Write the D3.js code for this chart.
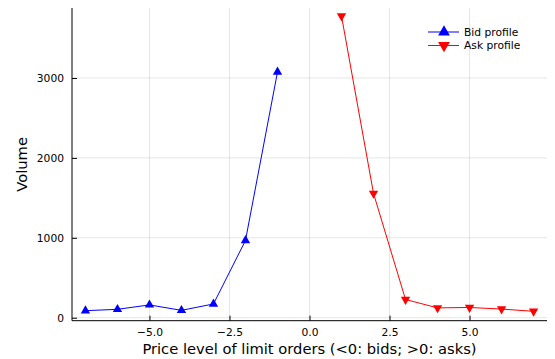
<!DOCTYPE html>
<html>
<head>
<meta charset="utf-8">
<script src="https://cdn.jsdelivr.net/npm/d3@7"></script>
<style>
body { margin: 0; background: #fff; }
text { font-family: "DejaVu Sans", sans-serif; }
</style>
</head>
<body>
<svg id="chart" width="555" height="359"></svg>
<script>
// data
var bidLevels = [-7, -6, -5, -4, -3, -2, -1]
var bidVolume = [88, 105, 160, 92, 172, 967, 3075]
var askLevels = [1, 2, 3, 4, 5, 6, 7]
var askVolume = [3775, 1555, 228, 123, 128, 108, 80]
var xTicks = [-5, -2.5, 0, 2.5, 5]
var yTicks = [0, 1000, 2000, 3000]

var svg = d3.select("#chart")
// note: "top" is taken by window.top, so use plot* names
var plotLeft = 72, plotRight = 547, plotTop = 8, plotBottom = 320.7

var x = d3.scaleLinear().domain([-7.42, 7.42]).range([plotLeft, plotRight])
var y = d3.scaleLinear().domain([-37.5, 3876]).range([plotBottom, plotTop])

// grid
svg.append("g").selectAll("line").data(xTicks).enter().append("line")
  .attr("x1", d => x(d)).attr("x2", d => x(d))
  .attr("y1", plotTop).attr("y2", plotBottom)
  .attr("stroke", "#000").attr("stroke-opacity", 0.1).attr("stroke-width", 1)
svg.append("g").selectAll("line").data(yTicks).enter().append("line")
  .attr("x1", plotLeft).attr("x2", plotRight)
  .attr("y1", d => y(d)).attr("y2", d => y(d))
  .attr("stroke", "#000").attr("stroke-opacity", 0.1).attr("stroke-width", 1)

// axes, ticks point inward like Plots.jl
var xAxis = d3.axisBottom(x).tickValues(xTicks).tickSize(-5).tickPadding(8)
  .tickFormat(d3.format(".1f"))
var gx = svg.append("g").attr("transform", "translate(0," + plotBottom + ")").call(xAxis)
gx.select(".domain").remove()

var yAxis = d3.axisLeft(y).tickValues(yTicks).tickSize(-5).tickPadding(8)
  .tickFormat(d3.format("d"))
var gy = svg.append("g").attr("transform", "translate(" + plotLeft + ",0)").call(yAxis)
gy.select(".domain").remove()

svg.selectAll(".tick line").attr("stroke", "#000").attr("stroke-width", 1)
svg.selectAll(".tick text").attr("font-size", 10.7).attr("fill", "#000")
  .attr("font-family", "DejaVu Sans, sans-serif")

svg.append("line").attr("x1", plotLeft).attr("x2", plotLeft).attr("y1", plotTop).attr("y2", plotBottom)
  .attr("stroke", "#000").attr("stroke-width", 1)
svg.append("line").attr("x1", plotLeft).attr("x2", plotRight).attr("y1", plotBottom).attr("y2", plotBottom)
  .attr("stroke", "#000").attr("stroke-width", 1)

// series
var line = d3.line().x(d => x(d[0])).y(d => y(d[1]))
var bids = bidLevels.map((d, i) => [d, bidVolume[i]])
var asks = askLevels.map((d, i) => [d, askVolume[i]])

svg.append("path").datum(bids).attr("d", line)
  .attr("fill", "none").attr("stroke", "blue").attr("stroke-width", 1)
svg.append("path").datum(asks).attr("d", line)
  .attr("fill", "none").attr("stroke", "red").attr("stroke-width", 1)

var up = d3.symbol().type(d3.symbolTriangle).size(38)
svg.append("g").selectAll("path").data(bids).enter().append("path")
  .attr("d", up)
  .attr("transform", d => "translate(" + x(d[0]) + "," + y(d[1]) + ")")
  .attr("fill", "blue")
svg.append("g").selectAll("path").data(asks).enter().append("path")
  .attr("d", up)
  .attr("transform", d => "translate(" + x(d[0]) + "," + y(d[1]) + ") rotate(180)")
  .attr("fill", "red")

// legend
var legend = [["Bid profile", "blue", 0], ["Ask profile", "red", 180]]
var lg = svg.append("g").selectAll("g").data(legend).enter().append("g")
  .attr("transform", (d, i) => "translate(0," + (32 + i * 13.5) + ")")
lg.append("line").attr("x1", 428).attr("x2", 459).attr("y1", 0).attr("y2", 0)
  .attr("stroke", d => d[1]).attr("stroke-width", 1)
lg.append("path").attr("d", d3.symbol().type(d3.symbolTriangle).size(60))
  .attr("transform", d => "translate(444,0) rotate(" + d[2] + ")")
  .attr("fill", d => d[1])
lg.append("text").attr("x", 464).attr("y", 3.8).attr("font-size", 10.7)
  .text(d => d[0])

// axis labels
svg.append("text").attr("x", (plotLeft + plotRight) / 2).attr("y", 354)
  .attr("text-anchor", "middle").attr("font-size", 14.7)
  .text("Price level of limit orders (<0: bids; >0: asks)")
svg.append("text").attr("transform", "translate(27," + ((plotTop + plotBottom) / 2) + ") rotate(-90)")
  .attr("text-anchor", "middle").attr("font-size", 14.7)
  .text("Volume")
</script>
</body>
</html>
